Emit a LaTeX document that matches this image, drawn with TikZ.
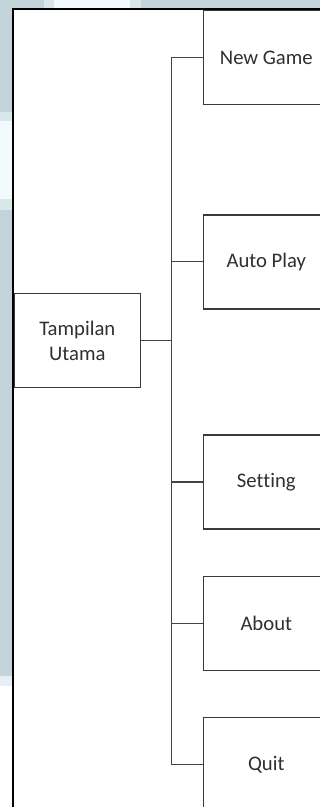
\documentclass[tikz,border=0pt]{standalone}
\usepackage{fontspec}
\setmainfont[Ligatures={NoCommon}]{Carlito}
\begin{document}
\begin{tikzpicture}[x=1pt,y=-1pt,
  menubox/.style={draw=boxline,line width=1.4pt,minimum width=126pt,minimum height=94pt,
    inner sep=0pt,align=center,text=txt,font=\fontsize{20.7}{25.3}\selectfont},
  link/.style={draw=linkline,line width=1.3pt}]
\definecolor{bluegray}{HTML}{C2D3DA}
\definecolor{paleblue}{HTML}{DAE7EA}
\definecolor{nearwhite}{HTML}{F3FAFC}
\definecolor{iceblue}{HTML}{E6EFF8}
\definecolor{boxline}{HTML}{3A3A3A}
\definecolor{linkline}{HTML}{444444}
\definecolor{txt}{HTML}{303030}
\useasboundingbox (0,0) rectangle (320,807);
\clip (0,0) rectangle (320,807);
% page background and the window strips behind the panel
\fill[white] (0,0) rectangle (320,807);
\fill[bluegray] (0,0) rectangle (44,8.5);
\fill[paleblue] (44,0) rectangle (54,8.5);
\fill[nearwhite] (54,0) rectangle (130,8.5);
\fill[paleblue] (130,0) rectangle (141,8.5);
\fill[bluegray] (141,0) rectangle (320,8.5);
\fill[bluegray] (0,0) rectangle (12,111.7);
\fill[paleblue] (0,111.7) rectangle (12,121);
\fill[nearwhite] (0,121) rectangle (12,199);
\fill[paleblue] (0,199) rectangle (12,210);
\fill[bluegray] (0,210) rectangle (12,676);
\fill[iceblue] (0,676) rectangle (12,686);
% panel frame
\draw[black,line width=2pt] (12.8,830) -- (12.8,9.3) -- (340,9.3);
% menu nodes
\node[menubox] (main) at (77.3,340.6) {Tampilan\\Utama};
\node[menubox] (newgame) at (266.3,57.7) {New Game};
\node[menubox] (autoplay) at (266.3,261.8) {Auto Play};
\node[menubox] (setting) at (266.3,482) {Setting};
\node[menubox] (about) at (266.3,623.5) {About};
\node[menubox] (quit) at (266.3,764.7) {Quit};
% tree connectors
\coordinate (trunk) at (171.7,0);
\draw[link] (newgame.west) -- (newgame.west -| trunk) -- (quit.west -| trunk) -- (quit.west);
\draw[link] (main.east) -- (main.east -| trunk);
\draw[link] (autoplay.west) -- (autoplay.west -| trunk);
\draw[link] (setting.west) -- (setting.west -| trunk);
\draw[link] (about.west) -- (about.west -| trunk);
\end{tikzpicture}
\end{document}
